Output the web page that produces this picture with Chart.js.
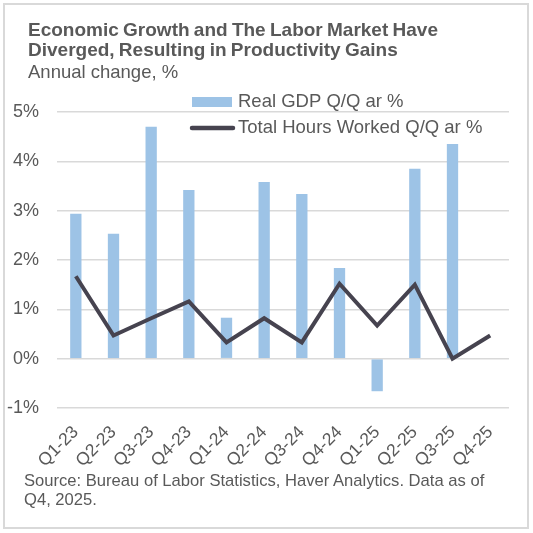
<!DOCTYPE html>
<html lang="en">
<head>
    <meta charset="UTF-8">
    <script src="https://cdn.jsdelivr.net/npm/chart.js@4.4.1/dist/chart.umd.min.js"></script>
    <title>Economic Growth and The Labor Market</title>
    <style>
        body { margin: 0; background: #fff; font-family: "Liberation Sans", Arial, sans-serif; color: #595959; }
        #wrap { position: relative; width: 533px; height: 533px; overflow: hidden; }
        #frame { position: absolute; left: 3px; top: 3px; width: 526px; height: 526px; box-sizing: border-box;
            border: 2px solid #D9D9D9; pointer-events: none; }
        .txt { position: absolute; white-space: nowrap; }
        #title { left: 28px; top: 20px; font-size: 19px; line-height: 20px; font-weight: bold; word-spacing: -1px; }
        #subtitle { left: 28px; top: 62px; font-size: 18.5px; line-height: 20px; }
        #source { left: 24px; top: 471px; font-size: 16.6px; line-height: 19px; }
    </style>
</head>
<body>
    <div id="wrap">
        <canvas id="myChart"></canvas>
        <div class="txt" id="title">Economic Growth and The Labor Market Have<br>Diverged, Resulting in Productivity Gains</div>
        <div class="txt" id="subtitle">Annual change, %</div>
        <div class="txt" id="source">Source: Bureau of Labor Statistics, Haver Analytics. Data as of<br>Q4, 2025.</div>
        <div id="frame"></div>
    </div>
    <script>
        const quarters = ['Q1-23', 'Q2-23', 'Q3-23', 'Q4-23', 'Q1-24', 'Q2-24', 'Q3-24', 'Q4-24', 'Q1-25', 'Q2-25', 'Q3-25', 'Q4-25'];
        const gdpGrowth = [2.94, 2.53, 4.70, 3.42, 0.83, 3.58, 3.34, 1.84, -0.66, 3.85, 4.35, null];
        const hoursWorked = [1.67, 0.47, 0.82, 1.16, 0.33, 0.82, 0.33, 1.52, 0.67, 1.50, 0.00, 0.47];
        const seriesNames = ['Real GDP Q/Q ar %', 'Total Hours Worked Q/Q ar %'];

        const barColor = '#9DC3E6';
        const lineColor = '#46434F';
        const textColor = '#595959';
        const font = '"Liberation Sans", Arial, sans-serif';

        // legend sits inside the plot, over the top gridline
        const insideLegend = {
            id: 'insideLegend',
            afterDraw(chart) {
                const ctx = chart.ctx;
                const sets = chart.data.datasets;
                ctx.save();
                ctx.font = '18.5px ' + font;
                ctx.textBaseline = 'middle';
                ctx.fillStyle = barColor;
                ctx.fillRect(192, 97, 40, 10);
                ctx.fillStyle = textColor;
                ctx.fillText(sets[0].label, 238, 102);
                ctx.strokeStyle = lineColor;
                ctx.lineWidth = 4.5;
                ctx.lineCap = 'round';
                ctx.beginPath();
                ctx.moveTo(192, 128);
                ctx.lineTo(233, 128);
                ctx.stroke();
                ctx.fillText(sets[1].label, 238, 128);
                ctx.restore();
            }
        };

        const ctx = document.getElementById('myChart').getContext('2d');
        const myChart = new Chart(ctx, {
            data: {
                labels: quarters,
                datasets: [{
                    type: 'bar',
                    label: seriesNames[0],
                    data: gdpGrowth,
                    backgroundColor: barColor,
                    categoryPercentage: 1,
                    barPercentage: 0.3,
                    order: 2
                }, {
                    type: 'line',
                    label: seriesNames[1],
                    data: hoursWorked,
                    borderColor: lineColor,
                    borderWidth: 4,
                    pointRadius: 0,
                    tension: 0,
                    fill: false,
                    order: 1
                }]
            },
            options: {
                responsive: true,
                maintainAspectRatio: false,
                animation: false,
                layout: { padding: { left: 2, right: 24, top: 112, bottom: 68 } },
                plugins: {
                    legend: { display: false },
                    tooltip: { enabled: false }
                },
                scales: {
                    x: {
                        grid: { display: false },
                        border: { display: false },
                        ticks: {
                            color: textColor,
                            font: { family: font, size: 17.5 },
                            minRotation: 45,
                            maxRotation: 45,
                            padding: 6
                        },
                        afterFit: (s) => { s.height = 57; }
                    },
                    y: {
                        min: -1,
                        max: 5,
                        grid: { color: '#D9D9D9', lineWidth: 1.5, drawTicks: false },
                        border: { display: false },
                        ticks: {
                            stepSize: 1,
                            color: textColor,
                            font: { family: font, size: 18 },
                            padding: 18,
                            callback: (v) => v + '%'
                        },
                        afterFit: (s) => { s.width = 55; }
                    }
                }
            },
            plugins: [insideLegend]
        });
    </script>
</body>
</html>
